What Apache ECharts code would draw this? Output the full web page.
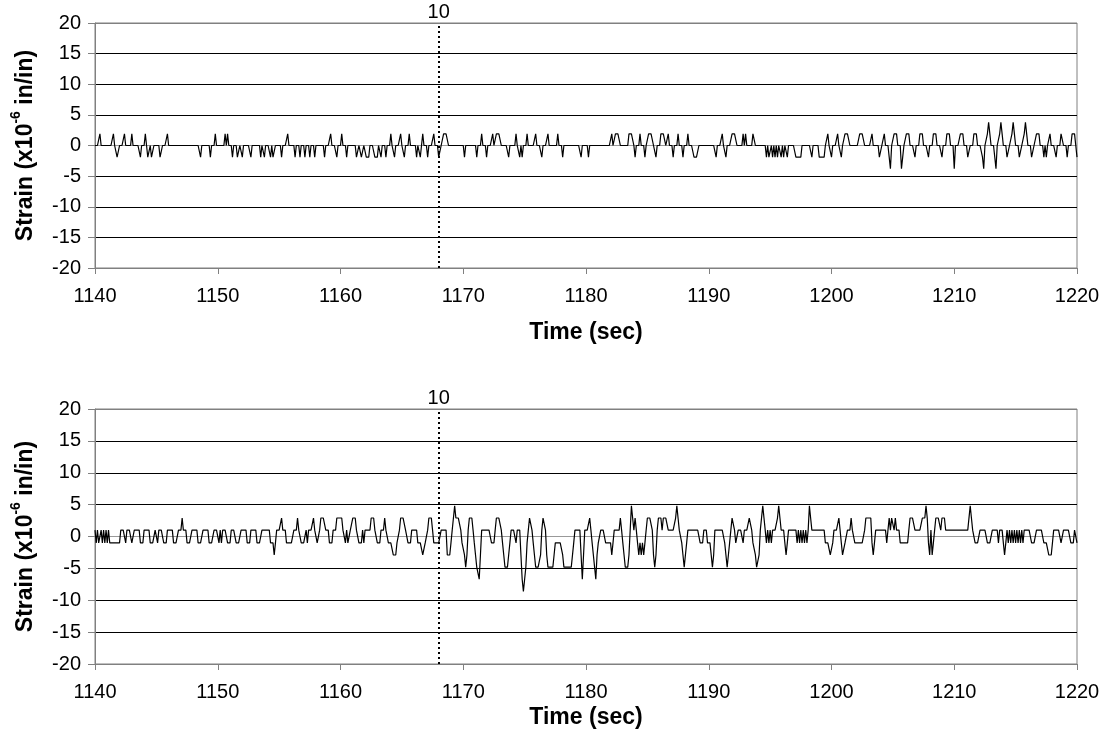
<!DOCTYPE html>
<html>
<head>
<meta charset="utf-8">
<script src="https://cdn.jsdelivr.net/npm/echarts@6/dist/echarts.min.js"></script>
<style>
html,body{margin:0;padding:0;background:#fff;}
#chart{width:1107px;height:744px;}
</style>
</head>
<body>
<div id="chart"></div>
<script>
// ---- data (sampled every 0.1 s from 1140 s) ----
var startTime = 1140;
var sampleStep = 0.1;
var eventTime = 1168;
var eventLabel = '10';
var xTitle = 'Time (sec)';

var topStrain = [
0,0,0,0,1.9,0,0,0,0,0,
0,0,0,0,0,1.9,0,0,-1.9,-1.9,
0,0,0,0,1.9,0,0,0,0,0,
1.9,0,0,0,0,0,0,-1.9,0,0,
0,1.9,0,-1.9,-1.9,0,-1.9,-1.9,0,0,
0,0,0,-1.9,-1.9,0,0,0,0,1.9,
0,0,0,0,0,0,0,0,0,0,
0,0,0,0,0,0,0,0,0,0,
0,0,0,0,0,0,-1.9,0,0,0,
0,0,0,0,-1.9,0,0,0,1.9,0,
0,0,0,0,0,0,1.9,0,1.9,0,
0,0,-1.9,0,0,0,-1.9,-1.9,0,0,
-1.9,0,0,0,0,0,0,-1.9,0,0,
0,0,0,0,0,-1.9,0,0,-1.9,0,
0,0,0,-1.9,0,-1.9,-1.9,0,0,0,
0,0,-1.9,0,0,0,0,1.9,0,0,
0,0,0,-1.9,0,0,0,-1.9,0,0,
0,-1.9,0,0,0,-1.9,0,0,0,-1.9,
0,0,0,0,0,0,0,-1.9,0,0,
0,0,1.9,0,0,0,0,-1.9,0,0,
0,1.9,0,0,0,-1.9,0,0,0,0,
0,0,0,-1.9,-1.9,0,0,-1.9,-1.9,0,
0,-1.9,-1.9,-1.9,0,0,0,0,-1.9,-1.9,
-1.9,0,0,-1.9,0,0,0,-1.9,0,0,
0,1.9,0,0,-1.9,0,0,0,0,1.9,
0,0,-1.9,0,0,0,1.9,0,0,0,
0,0,-1.9,0,0,-1.9,0,1.9,0,0,
0,-1.9,0,0,0,0,1.9,0,0,0,
-1.9,-1.9,0,0,1.9,1.9,1.9,1.9,0,0,
0,0,0,0,0,0,0,0,0,0,
0,-1.9,0,0,0,0,0,0,0,0,
0,-1.9,0,0,0,1.9,0,0,0,-1.9,
0,0,0,0,1.9,0,0,1.9,1.9,1.9,
1.9,0,0,0,0,0,0,-1.9,0,0,
0,0,0,1.9,0,0,-1.9,0,-1.9,0,
0,0,1.9,0,0,0,0,0,0,1.9,
0,0,0,0,-1.9,0,0,0,0,1.9,
0,0,0,0,0,0,0,1.9,0,0,
0,-1.9,0,0,0,0,0,0,0,0,
0,0,0,0,0,0,-1.9,0,0,0,
0,0,-1.9,0,0,0,0,0,0,0,
0,0,0,0,0,0,0,0,0,0,
0,1.9,0,0,1.9,1.9,1.9,1.9,0,0,
0,0,0,0,0,1.9,1.9,1.9,1.9,0,
-1.9,0,0,0,1.9,0,0,0,-1.9,0,
0,1.9,1.9,1.9,1.9,0,0,-1.9,0,0,
0,1.9,1.9,1.9,1.9,0,0,1.9,0,0,
0,-1.9,0,0,0,1.9,0,0,0,-1.9,
0,0,0,1.9,0,0,0,0,-1.9,-1.9,
-1.9,-1.9,0,0,0,0,0,0,0,0,
0,0,0,0,0,0,-1.9,0,0,0,
0,1.9,0,0,-1.9,0,0,0,0,1.9,
1.9,1.9,1.9,0,0,0,0,0,1.9,0,
1.9,0,0,0,0,0,1.9,1.9,0,0,
0,0,0,0,0,0,0,-1.9,0,-1.9,
-1.9,0,-1.9,0,-1.9,0,-1.9,0,0,-1.9,
0,-1.9,0,0,-1.9,0,0,0,0,0,
0,-1.9,-1.9,-1.9,-1.9,-1.9,0,0,0,0,
0,0,0,0,-1.9,0,0,0,0,0,
-1.9,-1.9,-1.9,-1.9,-1.9,0,0,1.9,0,0,
-1.9,0,0,0,0,1.9,0,0,-1.9,0,
0,1.9,1.9,1.9,1.9,0,0,0,0,0,
0,0,0,1.9,1.9,1.9,1.9,0,0,0,
0,0,0,1.9,0,0,0,0,0,-1.9,
-1.9,0,0,1.9,0,0,0,-1.9,-3.8,0,
0,1.9,1.9,1.9,0,0,0,-3.8,-1.9,0,
0,1.9,1.9,1.9,0,0,0,0,-1.9,0,
0,0,1.9,1.9,1.9,0,0,0,0,-1.9,
0,0,0,1.9,1.9,1.9,0,0,0,0,
-1.9,0,0,0,1.9,1.9,1.9,0,0,0,
-3.8,0,0,0,0,1.9,1.9,1.9,0,0,
0,-1.9,-1.9,0,0,0,1.9,1.9,1.9,0,
0,0,0,-1.9,-3.8,0,0,1.9,3.8,1.9,
0,0,0,0,-3.8,0,0,1.9,3.8,1.9,
0,0,0,-1.9,-1.9,0,0,1.9,3.8,1.9,
0,0,0,-1.9,-1.9,0,0,1.9,3.8,1.9,
0,0,0,-1.9,-1.9,0,0,1.9,1.9,1.9,
0,0,0,-1.9,0,-1.9,0,0,1.9,0,
0,0,0,-1.9,0,0,0,1.9,1.9,0,
0,0,-1.9,0,0,0,1.9,1.9,1.9,0,
-1.9
];

var bottomStrain = [
1,-1,1,-1,-1,1,-1,1,-1,1,
-1,1,-1,-1,-1,-1,-1,-1,-1,-1,
-1,1,1,1,1,-1,1,1,1,1,
-1,-1,1,1,1,1,1,-1,-1,-1,
1,1,1,1,1,-1,-1,-1,-1,1,
1,-1,1,1,1,1,-1,-1,-1,1,
1,1,1,1,-1,-1,-1,-1,1,1,
1,2.9,1,1,1,-1,-1,-1,-1,1,
1,1,1,1,-1,-1,-1,-1,1,1,
1,1,1,-1,-1,-1,-1,1,1,1,
1,-1,1,-1,1,1,1,1,-1,-1,
-1,1,1,1,1,-1,-1,-1,-1,1,
1,1,1,1,-1,-1,-1,1,1,1,
1,1,-1,-1,-1,-1,1,1,1,1,
1,1,1,-1,-1,-1,-2.9,-1,1,1,
1,1,2.9,1,1,1,-1,-1,-1,-1,
-1,-1,1,1,1,2.9,1,1,-1,-1,
-1,-1,1,-1,1,1,1,1,2.9,1,
1,-1,-1,1,2.9,2.9,2.9,2.9,1,1,
1,-1,-1,-1,1,1,1,2.9,2.9,2.9,
2.9,2.9,1,1,-1,1,-1,-1,1,1,
2.9,2.9,2.9,1,1,-1,-1,-1,1,-1,
1,1,1,1,1,2.9,2.9,2.9,1,1,
-1,-1,-1,1,1,1,2.9,1,1,-1,
-1,-1,-1,-2.9,-2.9,-2.9,-1,-1,1,2.9,
2.9,2.9,2.9,1,1,-1,-1,-1,1,1,
1,1,1,-1,-1,-1,-1,-2.9,-2.9,-1,
-1,1,2.9,2.9,2.9,1,-1,-1,-1,-1,
-1,-1,1,1,1,1,1,-2.9,-2.9,-2.9,
-1,1,2.9,4.8,2.9,2.9,2.9,2.9,1,-1,
-1,-2.9,-4.8,-2.9,1,2.9,2.9,2.9,1,-1,
-2.9,-4.8,-4.8,-6.7,-2.9,1,1,1,1,1,
1,1,1,-1,-1,-1,1,2.9,2.9,2.9,
2.9,1,-1,-2.9,-4.8,-4.8,-4.8,-2.9,-1,1,
1,1,1,-1,1,1,1,-2.9,-6.7,-8.6,
-6.7,-4.8,-1,1,2.9,2.9,1,-1,-2.9,-4.8,
-4.8,-4.8,-4.8,-2.9,1,2.9,2.9,1,-2.9,-4.8,
-4.8,-4.8,-4.8,-4.8,-2.9,-1,-1,-1,-1,-1,
-1,-2.9,-4.8,-4.8,-4.8,-4.8,-4.8,-4.8,-4.8,-4.8,
-1,1,1,1,1,1,-2.9,-6.7,-2.9,1,
1,1,1,2.9,1,-1,-2.9,-4.8,-6.7,-2.9,
-1,-1,1,1,1,1,-1,-1,-1,-1,
-1,-2.9,-1,1,1,1,1,1,2.9,1,
-1,-2.9,-4.8,-4.8,-4.8,-2.9,1,4.8,2.9,1,
2.9,1,-1,-2.9,-1,-2.9,-1,-2.9,-1,1,
2.9,2.9,2.9,2.9,1,-2.9,-4.8,-2.9,1,2.9,
2.9,2.9,1,2.9,2.9,2.9,2.9,1,1,1,
1,1,1,2.9,4.8,2.9,1,1,-1,-2.9,
-4.8,-2.9,-1,1,1,1,1,1,1,1,
1,1,1,-1,-1,-1,1,1,1,-1,
-1,-1,-2.9,-4.8,-2.9,1,1,1,1,1,
1,1,1,-1,-2.9,-4.8,-2.9,-1,1,2.9,
2.9,1,-1,-1,1,1,1,1,-1,1,
1,1,1,2.9,2.9,1,-1,-1,-2.9,-4.8,
-4.8,-2.9,1,2.9,4.8,2.9,1,-1,1,-1,
1,-1,1,1,1,1,2.9,4.8,2.9,1,
1,1,-1,-2.9,-1,1,1,1,1,1,
1,1,-1,1,-1,1,-1,1,-1,1,
-1,1,4.8,2.9,1,1,1,1,1,1,
1,1,1,1,1,-1,-1,-1,-1,-2.9,
-2.9,-1,1,1,1,1,2.9,1,-1,-2.9,
-2.9,-1,-1,1,1,1,2.9,1,1,-1,
-1,-1,-1,-1,-1,-1,-1,1,2.9,2.9,
2.9,2.9,2.9,-1,-2.9,-1,1,1,1,1,
1,1,1,1,1,-1,1,2.9,1,2.9,
2.9,1,2.9,1,1,1,-1,-1,-1,-1,
-1,-1,-1,1,2.9,2.9,2.9,2.9,1,1,
1,1,1,1,2.9,2.9,2.9,4.8,2.9,-1,
-2.9,1,-2.9,-1,1,2.9,2.9,2.9,2.9,1,
2.9,2.9,2.9,1,1,1,1,1,1,1,
1,1,1,1,1,1,1,1,1,1,
1,1,1,4.8,2.9,1,1,-1,-1,-1,
-1,1,1,1,1,1,1,-1,-1,-1,
-1,1,1,1,1,1,-1,1,1,1,
-1,-2.9,-1,1,-1,1,-1,1,-1,1,
-1,1,-1,1,-1,1,-1,1,1,1,
1,1,1,-1,-1,-1,-1,1,1,1,
1,1,1,-1,-1,-1,-1,-2.9,-2.9,-2.9,
-1,1,1,1,1,1,1,-1,-1,1,
1,1,1,1,1,-1,-1,-1,1,1,
-1
];

function toPoints(values) {
  return values.map(function (v, i) {
    return [+(startTime + i * sampleStep).toFixed(2), v];
  });
}

var FONT = '"Liberation Sans", Arial, sans-serif';
var gridColors = ['#808080','#000','#000','#000','#999','#000','#000','#000','#808080'];

function xAxisCfg(gridIndex, nameGap) {
  return {
    type: 'value', gridIndex: gridIndex, min: 1140, max: 1220, interval: 10,
    name: xTitle, nameLocation: 'middle', nameGap: nameGap,
    nameTextStyle: {fontFamily: FONT, fontSize: 23, fontWeight: 'bold', color: '#000'},
    axisLine: {show: true, onZero: false, lineStyle: {color: '#808080', width: 1}},
    axisTick: {show: true, inside: false, length: 6, lineStyle: {color: '#808080'}},
    axisLabel: {margin: 18, fontFamily: FONT, fontSize: 20, color: '#000',
      formatter: function (v) { return String(v); }},
    splitLine: {show: false}
  };
}
function yAxisCfg(gridIndex) {
  return {
    type: 'value', gridIndex: gridIndex, min: -20, max: 20, interval: 5,
    name: '{b|Strain (x10}{s|-6}{b| in/in)}', nameLocation: 'middle', nameRotate: 90, nameGap: 58,
    nameTextStyle: {
      fontFamily: FONT, color: '#000',
      rich: {
        b: {fontFamily: FONT, fontSize: 23, fontWeight: 'bold', color: '#000', lineHeight: 28, verticalAlign: 'bottom'},
        s: {fontFamily: FONT, fontSize: 14, fontWeight: 'bold', color: '#000', lineHeight: 28, verticalAlign: 'top'}
      }
    },
    axisLine: {show: true, onZero: false, lineStyle: {color: '#808080', width: 1}},
    axisTick: {show: true, inside: false, length: 7, lineStyle: {color: '#808080'}},
    axisLabel: {margin: 14, fontFamily: FONT, fontSize: 20, color: '#000'},
    splitLine: {show: true, lineStyle: {color: gridColors, width: 1}}
  };
}
function seriesCfg(idx, values) {
  return {
    type: 'line', xAxisIndex: idx, yAxisIndex: idx,
    data: toPoints(values), showSymbol: false, symbol: 'none', animation: false,
    lineStyle: {color: '#000', width: 1.2}, z: 3,
    markLine: {
      silent: true, symbol: ['none', 'none'], animation: false,
      lineStyle: {color: '#000', type: [2, 3], width: 2},
      label: {show: true, position: 'end', formatter: eventLabel, fontFamily: FONT, fontSize: 20, color: '#000', distance: 1},
      data: [{xAxis: eventTime}]
    }
  };
}

var chart = echarts.init(document.getElementById('chart'), null, {renderer: 'canvas'});
chart.setOption({
  backgroundColor: '#fff',
  animation: false,
  grid: [
    {left: 95, right: 30, top: 23, height: 245, show: true, borderColor: '#808080', borderWidth: 1, backgroundColor: 'transparent'},
    {left: 95, right: 30, top: 409, height: 255, show: true, borderColor: '#808080', borderWidth: 1, backgroundColor: 'transparent'}
  ],
  xAxis: [xAxisCfg(0, 53), xAxisCfg(1, 42)],
  yAxis: [yAxisCfg(0), yAxisCfg(1)],
  series: [seriesCfg(0, topStrain), seriesCfg(1, bottomStrain)]
});
</script>
</body>
</html>
